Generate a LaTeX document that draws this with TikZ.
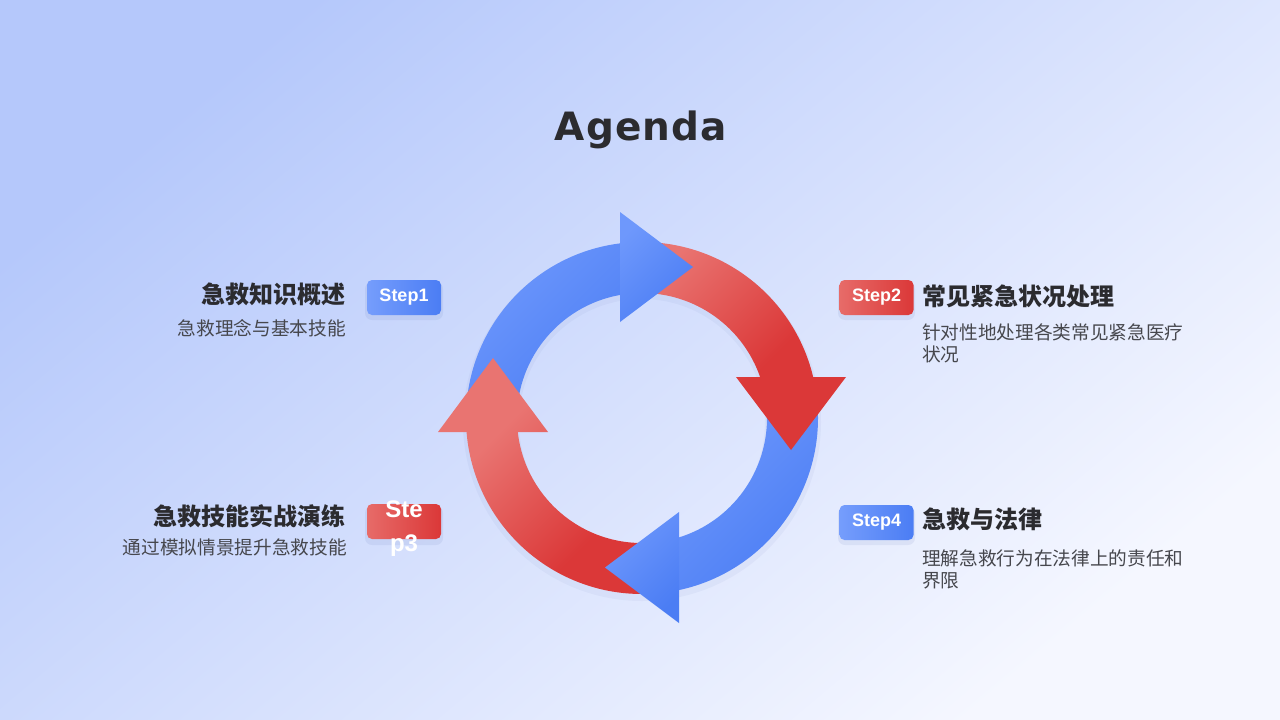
\documentclass[tikz,border=0pt]{standalone}
\usepackage{fontspec}
\setmainfont{Liberation Sans}
\newfontfamily\cjk{Noto Sans CJK SC}
\newfontfamily\titlefont{DejaVu Sans}
\usetikzlibrary{calc}
\definecolor{bgA}{HTML}{B5C8FB}
\definecolor{bgB}{HTML}{F5F7FF}
\definecolor{blueL}{HTML}{6E98FC}
\definecolor{blueD}{HTML}{4B7DF4}
\definecolor{redL}{HTML}{E97471}
\definecolor{redD}{HTML}{DB3838}
\definecolor{ink}{HTML}{2B2B2F}
\definecolor{subink}{HTML}{46474D}
\definecolor{shadowc}{HTML}{5A6FB0}
\pgfdeclareverticalshading{redring}{100bp}{color(0bp)=(redD); color(44bp)=(redD); color(61bp)=(redL); color(100bp)=(redL)}
\newcommand\ringpath[2]{($(C)+(#1:176)$) arc[start angle=#1,end angle=#2,radius=176] -- ($(C)+(#2:125)$) arc[start angle=#2,end angle=#1,radius=125] -- cycle}
\begin{document}
\begin{tikzpicture}[x=1pt,y=-1pt,
  bluefill/.style={top color=blueL,bottom color=blueD,shading angle=45},
  badgebox/.style={rounded corners=5pt,minimum width=74pt,minimum height=35pt,inner sep=0pt,text=white,font=\bfseries\fontsize{18}{20}\selectfont},
  bluebadge/.style={badgebox,left color=blueL!95!white,right color=blueD},
  redbadge/.style={badgebox,left color=redL!85!redD,right color=redD},
  shadowbox/.style={fill=shadowc,opacity=0.10,rounded corners=7pt},
  headtext/.style={font=\cjk\bfseries\fontsize{24}{28}\selectfont,text=ink,inner sep=0pt},
  desctext/.style={font=\cjk\fontsize{18.67}{22}\selectfont,text=subink,inner sep=0pt}
]
\useasboundingbox (0,0) rectangle (1280,720);
\shade[top color=bgA,bottom color=bgB,shading angle=40] (0,0) rectangle (1280,720);

% title
\node[anchor=base,inner sep=0pt,text=ink,font=\titlefont\bfseries\fontsize{39}{44}\selectfont\addfontfeature{LetterSpace=3}] (title) at (641,140) {Agenda};

% ring
\coordinate (C) at (642,418);
% soft shadow of the ring band
\fill[shadowc,opacity=0.06,even odd rule] ($(C)+(0,4)$) circle[radius=179] ($(C)+(0,4)$) circle[radius=123];
% blue arcs
\shade[bluefill] \ringpath{-178}{-95};
\shade[bluefill] \ringpath{-4}{79};
% red arcs (global gradient)
\begin{scope}
\clip \ringpath{-84}{-12};
\shade[shading=redring,shading angle=45] (437,205) rectangle (847,630);
\end{scope}
\begin{scope}
\clip \ringpath{88}{178};
\shade[shading=redring,shading angle=45] (437,205) rectangle (847,630);
\end{scope}
% heads
\coordinate (A1a) at (620,212); \coordinate (A1b) at (620,322); \coordinate (A1t) at (693,267);
\coordinate (A2a) at (736,377); \coordinate (A2b) at (846,377); \coordinate (A2t) at (791,450);
\coordinate (A3a) at (679,512); \coordinate (A3b) at (679,623); \coordinate (A3t) at (605,567.5);
\coordinate (A4a) at (438,432); \coordinate (A4b) at (548,432); \coordinate (A4t) at (493,358);
\shade[bluefill] (A1a) -- (A1t) -- (A1b) -- cycle;
\shade[bluefill] (A3a) -- (A3b) -- (A3t) -- cycle;
\begin{scope}
\clip (A2a) -- (A2b) -- (A2t) -- cycle;
\shade[shading=redring,shading angle=45] (437,205) rectangle (847,630);
\end{scope}
\begin{scope}
\clip (A4a) -- (A4b) -- (A4t) -- cycle;
\shade[shading=redring,shading angle=45] (437,205) rectangle (847,630);
\end{scope}

% badge shadows
\fill[shadowbox] (365,282) rectangle (443,320);
\fill[shadowbox] (838,282) rectangle (915,320);
\fill[shadowbox] (365,506) rectangle (443,545);
\fill[shadowbox] (838,507) rectangle (915,545);

% badges
\node[bluebadge] (s1) at (404,297.5) {Step1};
\node[redbadge] (s2) at (876.5,297.5) {Step2};
\node[redbadge] (s3) at (404,521.5) {};
\node[inner sep=0pt,text=white,align=center,font=\bfseries\fontsize{24}{34}\selectfont] (s3t) at (404,528.7) {Ste\\p3};
\node[bluebadge] (s4) at (876.5,522.5) {Step4};

% texts left
\node[headtext,anchor=base east] (h1) at (346,303) {急救知识概述};
\node[desctext,anchor=base east] (d1) at (346,335) {急救理念与基本技能};
\node[headtext,anchor=base east] (h3) at (346,525) {急救技能实战演练};
\node[desctext,anchor=base east] (d3) at (347,554) {通过模拟情景提升急救技能};

% texts right
\node[headtext,anchor=base west] (h2) at (922,305) {常见紧急状况处理};
\node[desctext,anchor=base west] (d2) at (922,339) {\parbox[t]{320pt}{针对性地处理各类常见紧急医疗\\状况}};
\node[headtext,anchor=base west] (h4) at (922,528) {急救与法律};
\node[desctext,anchor=base west] (d4) at (922,565) {\parbox[t]{320pt}{理解急救行为在法律上的责任和\\界限}};
\end{tikzpicture}
\end{document}
